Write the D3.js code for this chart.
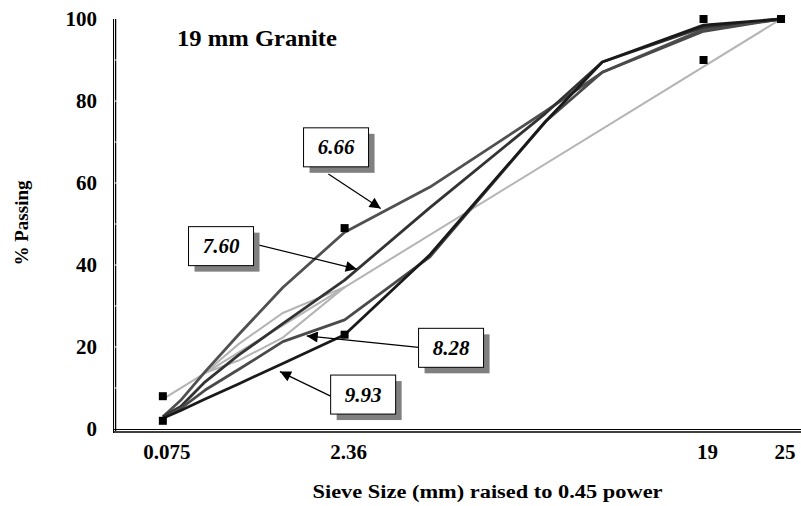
<!DOCTYPE html>
<html lang="en">
<head>
<meta charset="UTF-8">
<title>19 mm Granite</title>
<script src="https://d3js.org/d3.v7.min.js"></script>
<style>
    body { margin: 0; background: #fff; }
    text { font-family: "Liberation Serif", "Times New Roman", serif; font-weight: bold; }
</style>
</head>
<body>
<div class="container"></div>
<script>
// sieve sizes (mm) and % passing for each blend
const sieves = [0.075, 0.15, 0.3, 0.6, 1.18, 2.36, 4.75, 9.5, 12.5, 19, 25];
const blend666 = [3, 7, 14, 23, 34.5, 48, 59, 77.5, 87, 97.5, 100];
const blend760 = [3, 5.5, 11.5, 18, 25.7, 36.3, 54, 77, 89.5, 98, 100];
const blend828 = [2.6, 5, 9.5, 14.5, 21.3, 26.6, 42, 75, 87, 97, 100];
const blend993 = [2.6, 4.5, 7.3, 11, 16, 23, 42.5, 75, 89.5, 98.5, 100];

// maximum density line
const mdlSieves = [0.075, 25];
const mdlValues = [7.3, 100];

// restricted zone
const rzSieves = [0.3, 0.6, 1.18, 2.36];
const rzUpper = [13.7, 20.7, 28.3, 34.6];
const rzLower = [13.7, 16.7, 22.3, 34.6];

// control points
const cpSieves = [0.075, 0.075, 2.36, 2.36, 19, 19, 25];
const cpValues = [2, 8, 23, 49, 90, 100, 100];

const tickSieves = [0.075, 2.36, 19, 25];
const tickLabels = ["0.075", "2.36", "19", "25"];
const yTicks = [0, 20, 40, 60, 80, 100];

const blends = [
    { label: "6.66", values: blend666, color: "#505050" },
    { label: "7.60", values: blend760, color: "#333333" },
    { label: "8.28", values: blend828, color: "#4a4a4a" },
    { label: "9.93", values: blend993, color: "#1a1a1a" }
];

// callouts: box centre, arrow start, arrow tip (in sieve^0.45, % passing)
const callouts = [
    { text: "6.66", bx: 1.417, by: 68.7, sx: 1.368, sy: 62.2, tx: 1.702, ty: 53.8 },
    { text: "7.60", bx: 0.683, by: 44.6, sx: 0.879, sy: 45.3, tx: 1.549, ty: 39.0 },
    { text: "8.28", bx: 2.151, by: 19.8, sx: 1.944, sy: 19.9, tx: 1.230, ty: 22.7 },
    { text: "9.93", bx: 1.590, by: 8.4, sx: 1.389, sy: 7.9, tx: 1.059, ty: 14.0 }
];

const W = 801, H = 506;
const svg = d3.select(".container").append("svg")
    .attr("width", W).attr("height", H);

const pw = s => Math.pow(s, 0.45);
const x = d3.scaleLinear().domain([0, 4.4]).range([114, 114 + 4.4 * 156.7]);
const y = d3.scaleLinear().domain([0, 100]).range([429, 19]);

const line = d3.line().x(d => x(pw(d[0]))).y(d => y(d[1]));

svg.append("defs").append("marker")
    .attr("id", "arrow")
    .attr("viewBox", "0 0 10 10")
    .attr("refX", 10).attr("refY", 5)
    .attr("markerUnits", "userSpaceOnUse")
    .attr("markerWidth", 15).attr("markerHeight", 11)
    .attr("orient", "auto")
    .append("path").attr("d", "M0,0L10,5L0,10Z").attr("fill", "#000");

// grey reference lines
const grey = svg.append("g").attr("fill", "none").attr("stroke", "#b4b4b4").attr("stroke-width", 2);
grey.append("path").attr("d", line(d3.zip(mdlSieves, mdlValues)));
grey.append("path").attr("d", line(d3.zip(rzSieves, rzUpper)));
grey.append("path").attr("d", line(d3.zip(rzSieves, rzLower)));

// blends
svg.append("g").selectAll("path")
    .data(blends)
    .join("path")
    .attr("fill", "none")
    .attr("stroke", d => d.color)
    .attr("stroke-width", 2.8)
    .attr("stroke-linejoin", "round")
    .attr("d", d => line(d3.zip(sieves, d.values)));

// control points
svg.append("g").selectAll("rect")
    .data(d3.zip(cpSieves, cpValues))
    .join("rect")
    .attr("x", d => x(pw(d[0])) - 4)
    .attr("y", d => y(d[1]) - 4)
    .attr("width", 8).attr("height", 8)
    .attr("fill", "#000");

// axes (double line look)
const ax = svg.append("g");
ax.append("line").attr("x1", 113.5).attr("x2", 113.5).attr("y1", y(100)).attr("y2", 433).attr("stroke", "#000");
ax.append("line").attr("x1", 115.6).attr("x2", 115.6).attr("y1", y(100)).attr("y2", 431).attr("stroke", "#000").attr("stroke-width", 1.3);
ax.append("line").attr("x1", 113).attr("x2", W).attr("y1", 429.5).attr("y2", 429.5).attr("stroke", "#000");
ax.append("line").attr("x1", 113).attr("x2", W).attr("y1", 432).attr("y2", 432).attr("stroke", "#000").attr("stroke-width", 1.5);
ax.selectAll(".ytk")
    .data(d3.range(10, 100, 10))
    .join("line")
    .attr("x1", 114.5).attr("x2", 117)
    .attr("y1", d => y(d)).attr("y2", d => y(d))
    .attr("stroke", "#fff");

ax.selectAll(".ylab")
    .data(yTicks)
    .join("text")
    .attr("x", 97)
    .attr("y", d => y(d))
    .attr("dy", "0.35em")
    .attr("text-anchor", "end")
    .attr("font-size", 21)
    .text(d => d);

ax.selectAll(".xlab")
    .data(d3.zip(tickSieves, tickLabels))
    .join("text")
    .attr("x", d => x(pw(d[0])) + 4)
    .attr("y", 459)
    .attr("text-anchor", "middle")
    .attr("font-size", 21)
    .text(d => d[1]);

svg.append("text")
    .attr("x", 487.5).attr("y", 498)
    .attr("text-anchor", "middle")
    .attr("font-size", 18)
    .attr("textLength", 350).attr("lengthAdjust", "spacingAndGlyphs")
    .text("Sieve Size (mm) raised to 0.45 power");

svg.append("text")
    .attr("transform", "translate(28,223) rotate(-90)")
    .attr("text-anchor", "middle")
    .attr("font-size", 19)
    .text("% Passing");

svg.append("text")
    .attr("x", 177).attr("y", 46)
    .attr("font-size", 22.5)
    .attr("textLength", 160).attr("lengthAdjust", "spacingAndGlyphs")
    .text("19 mm Granite");

// callouts
const bw = 65, bh = 39;
const co = svg.append("g").selectAll("g").data(callouts).join("g");
co.append("line")
    .attr("x1", d => x(d.sx)).attr("y1", d => y(d.sy))
    .attr("x2", d => x(d.tx)).attr("y2", d => y(d.ty))
    .attr("stroke", "#000").attr("stroke-width", 1.2)
    .attr("marker-end", "url(#arrow)");
co.append("rect")
    .attr("x", d => x(d.bx) - bw / 2 + 6).attr("y", d => y(d.by) - bh / 2 + 6)
    .attr("width", bw).attr("height", bh)
    .attr("fill", "#808080");
co.append("rect")
    .attr("x", d => x(d.bx) - bw / 2).attr("y", d => y(d.by) - bh / 2)
    .attr("width", bw).attr("height", bh)
    .attr("fill", "#fff").attr("stroke", "#000");
co.append("text")
    .attr("x", d => x(d.bx)).attr("y", d => y(d.by) + 7)
    .attr("text-anchor", "middle")
    .attr("font-size", 21)
    .attr("font-style", "italic")
    .text(d => d.text);
</script>
</body>
</html>
